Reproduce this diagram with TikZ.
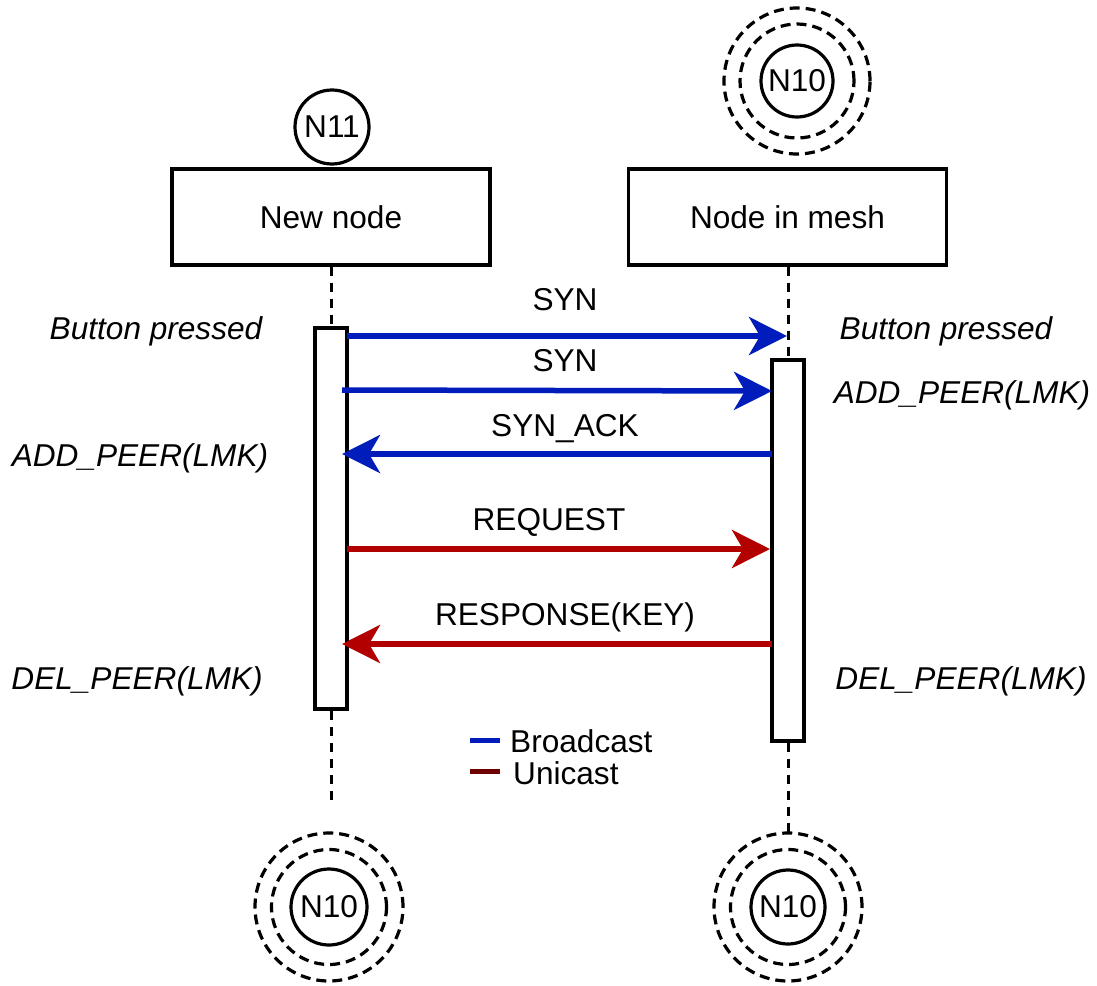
\documentclass[tikz,border=0pt]{standalone}
\usepackage{fontspec}
\setmainfont{Liberation Sans}
\usetikzlibrary{arrows.meta}
\definecolor{bcast}{HTML}{001DBC}
\definecolor{ucast}{HTML}{B20000}
\definecolor{ulegend}{HTML}{6F0000}
\begin{document}
\begin{tikzpicture}[x=1pt,y=-1pt,
  every node/.style={font=\fontsize{31.6}{38}\selectfont},
  box/.style={draw, line width=3.2pt, minimum width=318pt, minimum height=96pt, inner sep=0pt},
  nodecirc/.style={draw, circle, line width=3.2pt, minimum size=74pt, inner sep=0pt},
  ring/.style={draw, circle, line width=3.2pt, dash pattern=on 10pt off 6pt, inner sep=0pt},
  actbar/.style={draw, fill=white, line width=3.2pt, minimum width=32pt, minimum height=381pt, inner sep=0pt},
  life/.style={line width=3pt, dash pattern=on 9pt off 7pt},
  msg/.style={line width=5.5pt, -{Stealth[length=38pt,width=38pt,inset=11pt]}},
  lbl/.style={anchor=base, inner sep=0pt},
  note/.style={anchor=base, inner sep=0pt, font=\fontsize{31.6}{38}\selectfont\itshape},
  leg/.style={line width=5pt}
]
\useasboundingbox (0,0) rectangle (1097,985);

% lifeline heads
\node[box] (newn) at (331,217) {New node};
\node[box] (mesh) at (787.5,217) {Node in mesh};
\node[nodecirc] (n11) at (332,127) {N11};
\node[nodecirc, minimum size=72pt] (n10t) at (797,81) {N10};
\node[ring, minimum size=114pt] (n10tr1) at (n10t) {};
\node[ring, minimum size=146pt] (n10tr2) at (n10t) {};

% activation bars
\node[actbar] (actL) at (331,518.5) {};
\node[actbar] (actR) at (788,550.5) {};

% lifelines
\coordinate (endL) at (331,805);
\coordinate (endR) at (788,835);
\draw[life] (newn.south) -- (actL.north);
\draw[life] (actL.south) -- (endL);
\draw[life] (mesh.south -| actR.north) -- (actR.north);
\draw[life] (actR.south) -- (endR);

% bottom nodes
\node[nodecirc, minimum size=76pt] (n10l) at (329,907) {N10};
\node[ring, minimum size=115pt] (n10lr1) at (n10l) {};
\node[ring, minimum size=148pt] (n10lr2) at (n10l) {};
\node[nodecirc, minimum size=74pt] (n10r) at (788,907) {N10};
\node[ring, minimum size=115pt] (n10rr1) at (n10r) {};
\node[ring, minimum size=148pt] (n10rr2) at (n10r) {};

% message endpoints
\coordinate (s1a) at (347,336);
\coordinate (s1b) at (787,336);
\coordinate (s2a) at (342,390);
\coordinate (s2b) at (772,391);
\coordinate (saa) at (772,454);
\coordinate (sab) at (342,454);
\coordinate (rqa) at (347,549);
\coordinate (rqb) at (770,549);
\coordinate (rsa) at (772,644);
\coordinate (rsb) at (342,644);

% messages
\draw[msg, bcast] (s1a) -- (s1b);
\draw[msg, bcast] (s2a) -- (s2b);
\draw[msg, bcast] (saa) -- (sab);
\draw[msg, ucast] (rqa) -- (rqb);
\draw[msg, ucast] (rsa) -- (rsb);

% message labels
\node[lbl] (l1) at (565,310) {SYN};
\node[lbl] (l2) at (565,371) {SYN};
\node[lbl] (l3) at (565,436) {SYN\_ACK};
\node[lbl] (l4) at (549,530) {REQUEST};
\node[lbl] (l5) at (565,625) {RESPONSE(KEY)};

% notes
\node[note] (bpL) at (156,339) {Button pressed};
\node[note] (bpR) at (946,339) {Button pressed};
\node[note] (apR) at (962,403) {ADD\_PEER(LMK)};
\node[note] (apL) at (140,466) {ADD\_PEER(LMK)};
\node[note] (dpL) at (137,689) {DEL\_PEER(LMK)};
\node[note] (dpR) at (961,689) {DEL\_PEER(LMK)};

% legend
\coordinate (lb1) at (470,740);
\coordinate (lb2) at (500,740);
\coordinate (lu1) at (470,771);
\coordinate (lu2) at (500,771);
\draw[leg, bcast] (lb1) -- (lb2);
\draw[leg, ulegend] (lu1) -- (lu2);
\node[lbl, anchor=base west] (legb) at (510,752) {Broadcast};
\node[lbl, anchor=base west] (legu) at (513,784) {Unicast};
\end{tikzpicture}
\end{document}
